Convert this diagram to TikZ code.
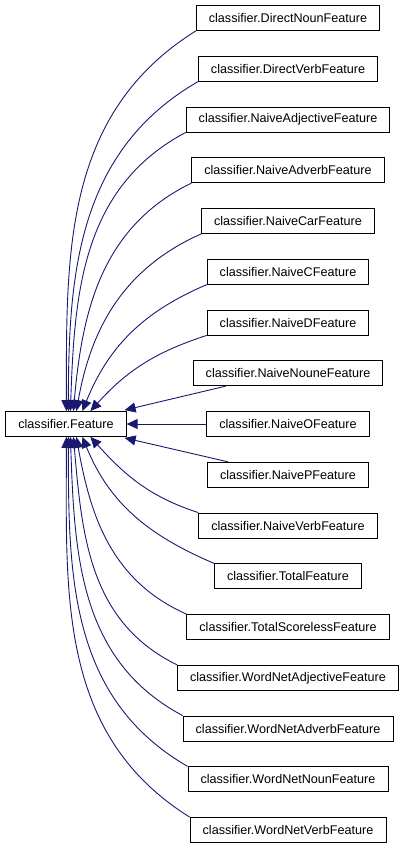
\documentclass[tikz,border=0pt]{standalone}
\usepackage{fontspec}
\setmainfont{Liberation Sans}
\usetikzlibrary{arrows.meta}
\definecolor{edgeblue}{HTML}{191970}

\begin{document}
\begin{tikzpicture}[x=1pt,y=1pt,
  cls/.style={draw, line width=0.8pt, fill=white, inner xsep=12.6pt, inner ysep=0pt,
    minimum height=25pt, font=\fontsize{12.6}{15}\selectfont},
  inh/.style={draw=edgeblue, line width=0.9pt, -{Triangle[length=11pt,width=10pt]}}]
  \useasboundingbox (0,0) rectangle (405,-848);

  % base class
  \node[cls] (feat) at (66,-424) {classifier.Feature};

  % derived classes
  \foreach \name [count=\i from 0] in {DirectNounFeature, DirectVerbFeature,
      NaiveAdjectiveFeature, NaiveAdverbFeature, NaiveCarFeature, NaiveCFeature,
      NaiveDFeature, NaiveNouneFeature, NaiveOFeature, NaivePFeature,
      NaiveVerbFeature, TotalFeature, TotalScorelessFeature,
      WordNetAdjectiveFeature, WordNetAdverbFeature, WordNetNounFeature,
      WordNetVerbFeature}
    \node[cls] (\name) at (288,{-18-50.75*\i}) {classifier.\name};

  % upper edges
  \foreach \name/\dx/\ang/\outang in {DirectNounFeature/61/90/212,
      DirectVerbFeature/63/90/210, NaiveAdjectiveFeature/65/88/208,
      NaiveAdverbFeature/68/85/206, NaiveCarFeature/71/80/204,
      NaiveCFeature/77/68/203, NaiveDFeature/85/48/198}
    \draw[inh] (\name.south west) to[out=\outang,in=\ang] ([xshift=\dx pt]feat.north west);

  % middle edges
  \draw[inh] ([xshift=33pt]NaiveNouneFeature.south west) -- ([xshift=-2pt,yshift=1pt]feat.north east);
  \draw[inh] (NaiveOFeature.west) -- (feat.east);
  \draw[inh] ([xshift=21pt]NaivePFeature.north west) -- ([xshift=-2pt,yshift=-1pt]feat.south east);

  % lower edges
  \foreach \name/\dx/\ang/\outang in {NaiveVerbFeature/85/-48/162,
      TotalFeature/77/-68/157, TotalScorelessFeature/71/-80/156,
      WordNetAdjectiveFeature/68/-85/154, WordNetAdverbFeature/65/-88/152,
      WordNetNounFeature/63/-90/150, WordNetVerbFeature/61/-90/148}
    \draw[inh] (\name.north west) to[out=\outang,in=\ang] ([xshift=\dx pt]feat.south west);
\end{tikzpicture}
\end{document}
